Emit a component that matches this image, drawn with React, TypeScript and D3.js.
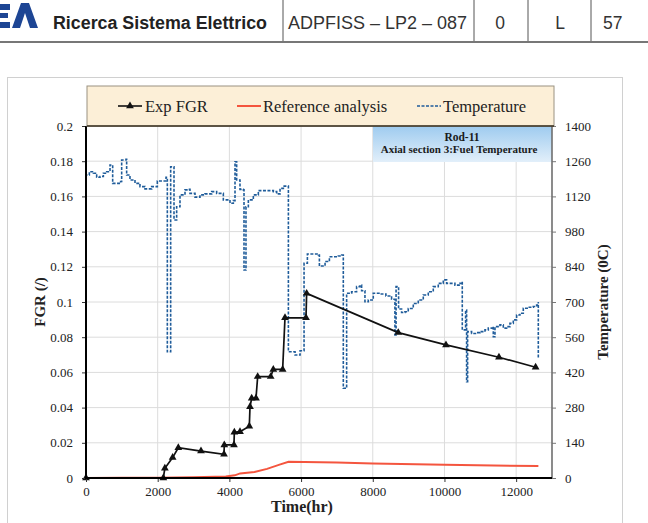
import { useCallback, useEffect, useRef } from 'react';
import { axisBottom, axisLeft, axisRight, curveStepAfter, line, scaleLinear, select, symbol, symbolTriangle, range } from 'd3';

// Exp FGR (measured)
const expTime = [0, 2157, 2200, 2417, 2575, 3208, 3850, 3858, 4128, 4138, 4296, 4556, 4575, 4622, 4742, 4789, 5152, 5225, 5486, 5551, 6137, 6155, 8711, 10042, 11520, 12543];
const expFgr = [0, 0, 0.0055, 0.0116, 0.0172, 0.0153, 0.0135, 0.0188, 0.0188, 0.026, 0.0263, 0.0294, 0.0405, 0.0453, 0.0453, 0.0576, 0.0576, 0.0617, 0.0617, 0.091, 0.091, 0.1049, 0.0826, 0.0756, 0.0686, 0.0629];

// Reference analysis
const refTime = [0, 1000, 2000, 3000, 3900, 4150, 4300, 4700, 5050, 5400, 5650, 7000, 8000, 10000, 12620];
const refFgr = [0, 0.0001, 0.0002, 0.0004, 0.0008, 0.0015, 0.0026, 0.0034, 0.0052, 0.0076, 0.0092, 0.0088, 0.0083, 0.0075, 0.0068];

// Fuel temperature (right axis)
const tempTime = [0, 0, 93, 205, 298, 391, 484, 577, 670, 744, 744, 967, 995, 1116, 1134, 1227, 1367, 1506, 1646, 1832, 1990, 2157, 2232, 2269, 2269, 2362, 2362, 2455, 2455, 2529, 2622, 2762, 2855, 2901, 3041, 3180, 3320, 3506, 3645, 3831, 4017, 4110, 4157, 4203, 4203, 4278, 4296, 4389, 4408, 4445, 4463, 4529, 4668, 4808, 5087, 5227, 5320, 5413, 5506, 5646, 5646, 5832, 5972, 6083, 6083, 6176, 6483, 6511, 6623, 6669, 6790, 7039, 7132, 7178, 7178, 7271, 7271, 7410, 7549, 7642, 7689, 7782, 7875, 8014, 8200, 8367, 8525, 8618, 8618, 8650, 8650, 8720, 8804, 8897, 8990, 9130, 9269, 9409, 9548, 9688, 9827, 9967, 10060, 10292, 10432, 10479, 10497, 10590, 10618, 10646, 10757, 10897, 10990, 11130, 11223, 11362, 11362, 11409, 11548, 11641, 11734, 11827, 11920, 12013, 12106, 12199, 12339, 12478, 12571, 12618, 12618];
const tempValue = [0, 1205, 1218, 1212, 1196, 1199, 1212, 1218, 1245, 1245, 1172, 1179, 1265, 1268, 1205, 1185, 1172, 1159, 1150, 1159, 1181, 1181, 1196, 1196, 502, 502, 1238, 1232, 1026, 1079, 1126, 1146, 1148, 1132, 1117, 1126, 1130, 1139, 1132, 1106, 1093, 1103, 1258, 1258, 1185, 1185, 1148, 1146, 827, 827, 1079, 1106, 1126, 1143, 1143, 1139, 1130, 1152, 1161, 1159, 502, 489, 506, 509, 854, 891, 887, 843, 843, 861, 880, 883, 887, 887, 357, 357, 735, 741, 761, 767, 745, 701, 708, 735, 732, 724, 711, 708, 569, 569, 761, 672, 658, 661, 674, 694, 708, 728, 741, 761, 774, 788, 774, 767, 774, 781, 589, 668, 383, 582, 575, 578, 582, 589, 596, 602, 562, 602, 609, 596, 602, 615, 629, 648, 655, 675, 679, 682, 688, 700, 476];

const xTicks = [0, 2000, 4000, 6000, 8000, 10000, 12000];
const fgrTicks = [0, 0.02, 0.04, 0.06, 0.08, 0.1, 0.12, 0.14, 0.16, 0.18, 0.2];
const tempTicks = [0, 140, 280, 420, 560, 700, 840, 980, 1120, 1260, 1400];

const serif = 'Liberation Serif, Times New Roman, serif';
const sans = 'Liberation Sans, Arial, sans-serif';

export default function App() {
  const containerRef = useRef<HTMLDivElement>(null);

  const initChart = useCallback(() => {
    const container = containerRef.current;
    if (!container) return;

    const W = 648, H = 523;
    const left = 86, right = 552, top = 126, bottom = 478;

    const div = select(container);
    div.select('svg').remove();
    const svg = div.append('svg').attr('width', W).attr('height', H).style('display', 'block');
    svg.append('rect').attr('width', W).attr('height', H).attr('fill', '#fff');

    // page header
    const hdr = svg.append('g');
    const logo = hdr.append('g').attr('fill', '#1d4594');
    logo.append('rect').attr('x', 0).attr('y', 4).attr('width', 10).attr('height', 6);
    logo.append('rect').attr('x', 0).attr('y', 13).attr('width', 8).attr('height', 5);
    logo.append('rect').attr('x', 0).attr('y', 22).attr('width', 10).attr('height', 6);
    logo.append('path').attr('d', 'M12,28 L21,3 L29,3 L38,28 L30,28 L25,13 L20,28 Z');
    hdr.append('text').attr('x', 53).attr('y', 28.5).attr('font-family', sans).attr('font-weight', 'bold')
      .attr('font-size', 17.5).attr('textLength', 214).attr('lengthAdjust', 'spacingAndGlyphs')
      .attr('fill', '#222').text('Ricerca Sistema Elettrico');
    hdr.append('text').attr('x', 288).attr('y', 28.5).attr('font-family', sans).attr('font-size', 17.5)
      .attr('textLength', 179).attr('lengthAdjust', 'spacingAndGlyphs').attr('fill', '#333').text('ADPFISS – LP2 – 087');
    hdr.append('text').attr('x', 500).attr('y', 28.5).attr('text-anchor', 'middle').attr('font-family', sans)
      .attr('font-size', 17.5).attr('fill', '#333').text('0');
    hdr.append('text').attr('x', 560).attr('y', 28.5).attr('text-anchor', 'middle').attr('font-family', sans)
      .attr('font-size', 17.5).attr('fill', '#333').text('L');
    hdr.append('text').attr('x', 603).attr('y', 28.5).attr('font-family', sans)
      .attr('font-size', 17.5).attr('fill', '#333').text('57');
    [283, 474, 528, 591].forEach((x) => {
      hdr.append('line').attr('x1', x).attr('x2', x).attr('y1', 0).attr('y2', 42).attr('stroke', '#555');
    });
    hdr.append('line').attr('x1', 0).attr('x2', W).attr('y1', 42).attr('y2', 42).attr('stroke', '#777').attr('stroke-width', 2);

    // chart frame
    svg.append('rect').attr('x', 7.5).attr('y', 77.5).attr('width', 615).attr('height', 460)
      .attr('fill', 'none').attr('stroke', '#d0d0d0');

    const x = scaleLinear().domain([0, 13000]).range([left, right]);
    const y = scaleLinear().domain([0, 0.2]).range([bottom, top]);
    const y2 = scaleLinear().domain([0, 1400]).range([bottom, top]);

    // grid
    const grid = svg.append('g').attr('stroke', '#dcdcdc').attr('stroke-width', 1);
    fgrTicks.forEach((v) => {
      grid.append('line').attr('x1', left).attr('x2', right).attr('y1', y(v)).attr('y2', y(v));
    });
    xTicks.forEach((v) => {
      grid.append('line').attr('x1', x(v)).attr('x2', x(v)).attr('y1', top).attr('y2', bottom);
    });

    // annotation box
    const defs = svg.append('defs');
    const grad = defs.append('linearGradient').attr('id', 'ann').attr('x1', 0).attr('y1', 0).attr('x2', 0).attr('y2', 1);
    grad.append('stop').attr('offset', '0%').attr('stop-color', '#9ecbef');
    grad.append('stop').attr('offset', '100%').attr('stop-color', '#e2effa');
    svg.append('rect').attr('x', 373).attr('y', top).attr('width', right - 373).attr('height', 36).attr('fill', 'url(#ann)');
    svg.append('text').attr('x', 462).attr('y', 141).attr('text-anchor', 'middle').attr('font-family', serif)
      .attr('font-weight', 'bold').attr('font-size', 11.5).attr('fill', '#1a1a1a').text('Rod-11');
    svg.append('text').attr('x', 459).attr('y', 153).attr('text-anchor', 'middle').attr('font-family', serif)
      .attr('font-weight', 'bold').attr('font-size', 11).attr('fill', '#1a1a1a').text('Axial section 3:Fuel Temperature');

    // temperature line
    const tempLine = line<number>().x((i) => x(tempTime[i])).y((i) => y2(tempValue[i])).curve(curveStepAfter);
    svg.append('path').attr('d', tempLine(range(tempTime.length)) || '').attr('fill', 'none')
      .attr('stroke', '#1f5c9a').attr('stroke-width', 1.6).attr('stroke-dasharray', '3,1.5');

    // reference analysis
    const refLine = line<number>().x((i) => x(refTime[i])).y((i) => y(refFgr[i]));
    svg.append('path').attr('d', refLine(range(refTime.length)) || '').attr('fill', 'none')
      .attr('stroke', '#f4553e').attr('stroke-width', 2);

    // exp FGR
    const expLine = line<number>().x((i) => x(expTime[i])).y((i) => y(expFgr[i]));
    svg.append('path').attr('d', expLine(range(expTime.length)) || '').attr('fill', 'none')
      .attr('stroke', '#111').attr('stroke-width', 1.7);
    const tri = symbol().type(symbolTriangle).size(26);
    svg.append('g').selectAll('path').data(range(expTime.length)).join('path')
      .attr('d', tri() || '')
      .attr('transform', (i) => `translate(${x(expTime[i])},${y(expFgr[i])})`)
      .attr('fill', '#111');

    // axes
    const styleText = (g: any) => {
      g.selectAll('text').attr('font-family', serif).attr('font-size', 13).attr('fill', '#222');
      g.select('.domain').remove();
    };
    svg.append('g').attr('transform', `translate(0,${bottom})`)
      .call(axisBottom(x).tickValues(xTicks).tickSize(4).tickPadding(5).tickFormat((d) => String(d)))
      .call(styleText)
      .call((g) => g.selectAll('line').attr('stroke', '#333'));
    svg.append('g').attr('transform', `translate(${left},0)`)
      .call(axisLeft(y).tickValues(fgrTicks).tickSize(4).tickPadding(9).tickFormat((d) => String(+(+d).toFixed(2))))
      .call(styleText)
      .call((g) => g.selectAll('line').attr('stroke', '#333'));
    svg.append('g').attr('transform', `translate(${right},0)`)
      .call(axisRight(y2).tickValues(tempTicks).tickSize(4).tickPadding(9).tickFormat((d) => String(d)))
      .call(styleText)
      .call((g) => g.selectAll('line').attr('stroke', '#777'));

    svg.append('line').attr('x1', right).attr('x2', right).attr('y1', top).attr('y2', bottom)
      .attr('stroke', '#6f6f6f').attr('stroke-width', 1.6);
    svg.append('line').attr('x1', left).attr('x2', left).attr('y1', top).attr('y2', bottom + 1)
      .attr('stroke', '#000').attr('stroke-width', 2);
    svg.append('line').attr('x1', left).attr('x2', right).attr('y1', bottom).attr('y2', bottom)
      .attr('stroke', '#000').attr('stroke-width', 2);

    // axis titles
    svg.append('text').attr('transform', `translate(45,302) rotate(-90)`).attr('text-anchor', 'middle')
      .attr('font-family', serif).attr('font-weight', 'bold').attr('font-size', 15).attr('fill', '#222').text('FGR (/)');
    svg.append('text').attr('transform', `translate(608,302) rotate(-90)`).attr('text-anchor', 'middle')
      .attr('font-family', serif).attr('font-weight', 'bold').attr('font-size', 15).attr('fill', '#222').text('Temperature (0C)');
    svg.append('text').attr('x', 302).attr('y', 512).attr('text-anchor', 'middle')
      .attr('font-family', serif).attr('font-weight', 'bold').attr('font-size', 16).attr('fill', '#222').text('Time(hr)');

    // legend
    const lg = svg.append('g');
    lg.append('rect').attr('x', 87).attr('y', 86).attr('width', 467).attr('height', 40)
      .attr('fill', '#fcefd7').attr('stroke', '#9a9282').attr('stroke-width', 1);
    lg.append('line').attr('x1', 87).attr('x2', 554).attr('y1', 126).attr('y2', 126).attr('stroke', '#3a3020').attr('stroke-width', 1.5);
    const ly = 106;
    lg.append('line').attr('x1', 118).attr('x2', 142).attr('y1', ly).attr('y2', ly).attr('stroke', '#111').attr('stroke-width', 1.6);
    lg.append('path').attr('d', tri() || '').attr('transform', `translate(130,${ly})`).attr('fill', '#111');
    lg.append('line').attr('x1', 237).attr('x2', 261).attr('y1', ly).attr('y2', ly).attr('stroke', '#f4553e').attr('stroke-width', 2);
    lg.append('line').attr('x1', 417).attr('x2', 441).attr('y1', ly).attr('y2', ly).attr('stroke', '#1f5c9a')
      .attr('stroke-width', 1.6).attr('stroke-dasharray', '3,1.5');
    [['Exp FGR', 145], ['Reference analysis', 263], ['Temperature', 443]].forEach(([t, lx]) => {
      lg.append('text').attr('x', lx as number).attr('y', ly + 5.5).attr('font-family', serif).attr('font-size', 16.5)
        .attr('fill', '#222').text(t as string);
    });
  }, []);

  const destroyChart = useCallback(() => {
    const container = containerRef.current;
    if (!container) return;
    select(container).select('svg').remove();
  }, []);

  useEffect(() => {
    initChart();
    return destroyChart;
  }, [destroyChart, initChart]);

  return <div ref={containerRef} style={{ position: 'absolute', left: 0, top: 0 }} />;
}
